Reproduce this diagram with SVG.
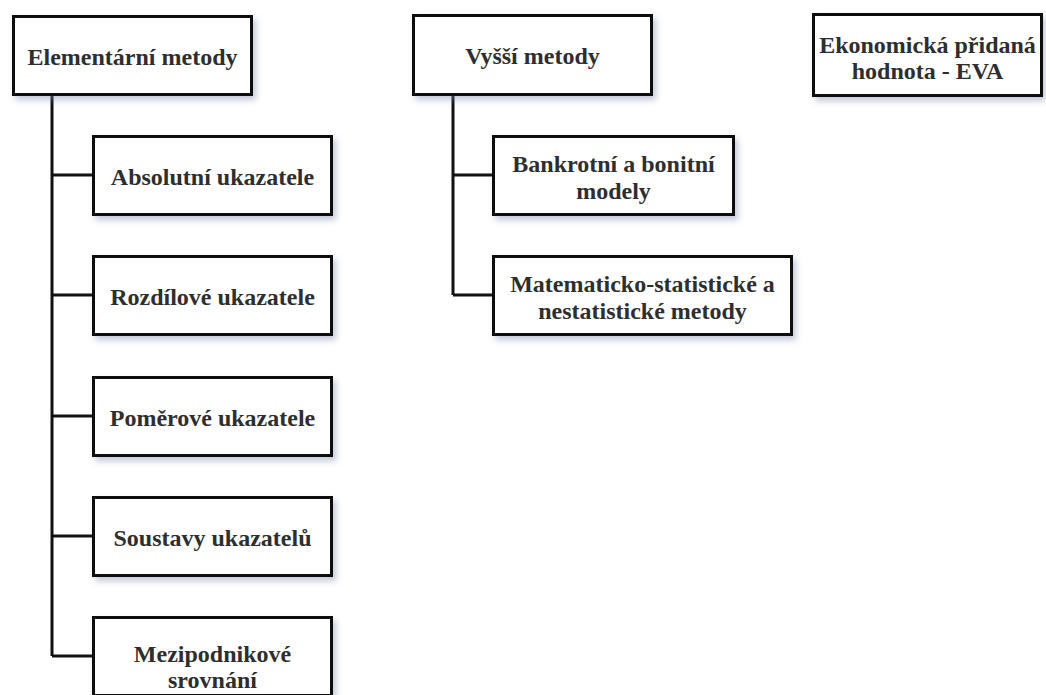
<svg xmlns="http://www.w3.org/2000/svg" width="1046" height="695" viewBox="0 0 1046 695">
<style>
.box{fill:#fff;stroke:#111;stroke-width:3;filter:url(#sh)}
.lbl{font-family:"Liberation Serif","Times New Roman",serif;font-weight:bold;font-size:24px;fill:#2e2e2e;text-anchor:middle}
.con{fill:none;stroke:#111;stroke-width:3}
</style>
<defs>
<filter id="sh" x="-10%" y="-20%" width="125%" height="150%">
<feDropShadow dx="3" dy="4" stdDeviation="3" flood-color="#7a84a8" flood-opacity="0.45"/>
</filter>
</defs>
<rect width="1046" height="695" fill="#fff"/>
<g id="connectors">
<path class="con" d="M52 96 V656 M52 175 H92 M52 295 H92 M52 416 H92 M52 536 H92 M52 656 H92"/>
<path class="con" d="M453 96 V295 M453 175 H492 M453 295 H492"/>
</g>
<g id="elementarni"><rect class="box" x="13.5" y="16.5" width="238" height="78"/><text class="lbl" x="132.5" y="65">Elementární metody</text></g>
<g id="absolutni"><rect class="box" x="93.5" y="136.5" width="238" height="78"/><text class="lbl" x="212.5" y="185">Absolutní ukazatele</text></g>
<g id="rozdilove"><rect class="box" x="93.5" y="256.5" width="238" height="78"/><text class="lbl" x="212.5" y="305">Rozdílové ukazatele</text></g>
<g id="pomerove"><rect class="box" x="93.5" y="377.5" width="238" height="78"/><text class="lbl" x="212.5" y="426">Poměrové ukazatele</text></g>
<g id="soustavy"><rect class="box" x="93.5" y="497.5" width="238" height="78"/><text class="lbl" x="212.5" y="546">Soustavy ukazatelů</text></g>
<g id="mezipodnikove"><rect class="box" x="93.5" y="617.5" width="238" height="78"/><text class="lbl" x="212.5" y="662">Mezipodnikové</text><text class="lbl" x="212.5" y="688">srovnání</text></g>
<g id="vyssi"><rect class="box" x="413.5" y="15.5" width="238" height="79"/><text class="lbl" x="532.5" y="64">Vyšší metody</text></g>
<g id="bankrotni"><rect class="box" x="493.5" y="136.5" width="240" height="78"/><text class="lbl" x="613.5" y="172">Bankrotní a bonitní</text><text class="lbl" x="613.5" y="199">modely</text></g>
<g id="matematicko"><rect class="box" x="493.5" y="256.5" width="298" height="78"/><text class="lbl" x="642.5" y="292">Matematicko-statistické a</text><text class="lbl" x="642.5" y="319">nestatistické metody</text></g>
<g id="eva"><rect class="box" x="813.5" y="14.5" width="228" height="81"/><text class="lbl" x="927.5" y="53">Ekonomická přidaná</text><text class="lbl" x="927.5" y="79">hodnota - EVA</text></g>
</svg>
